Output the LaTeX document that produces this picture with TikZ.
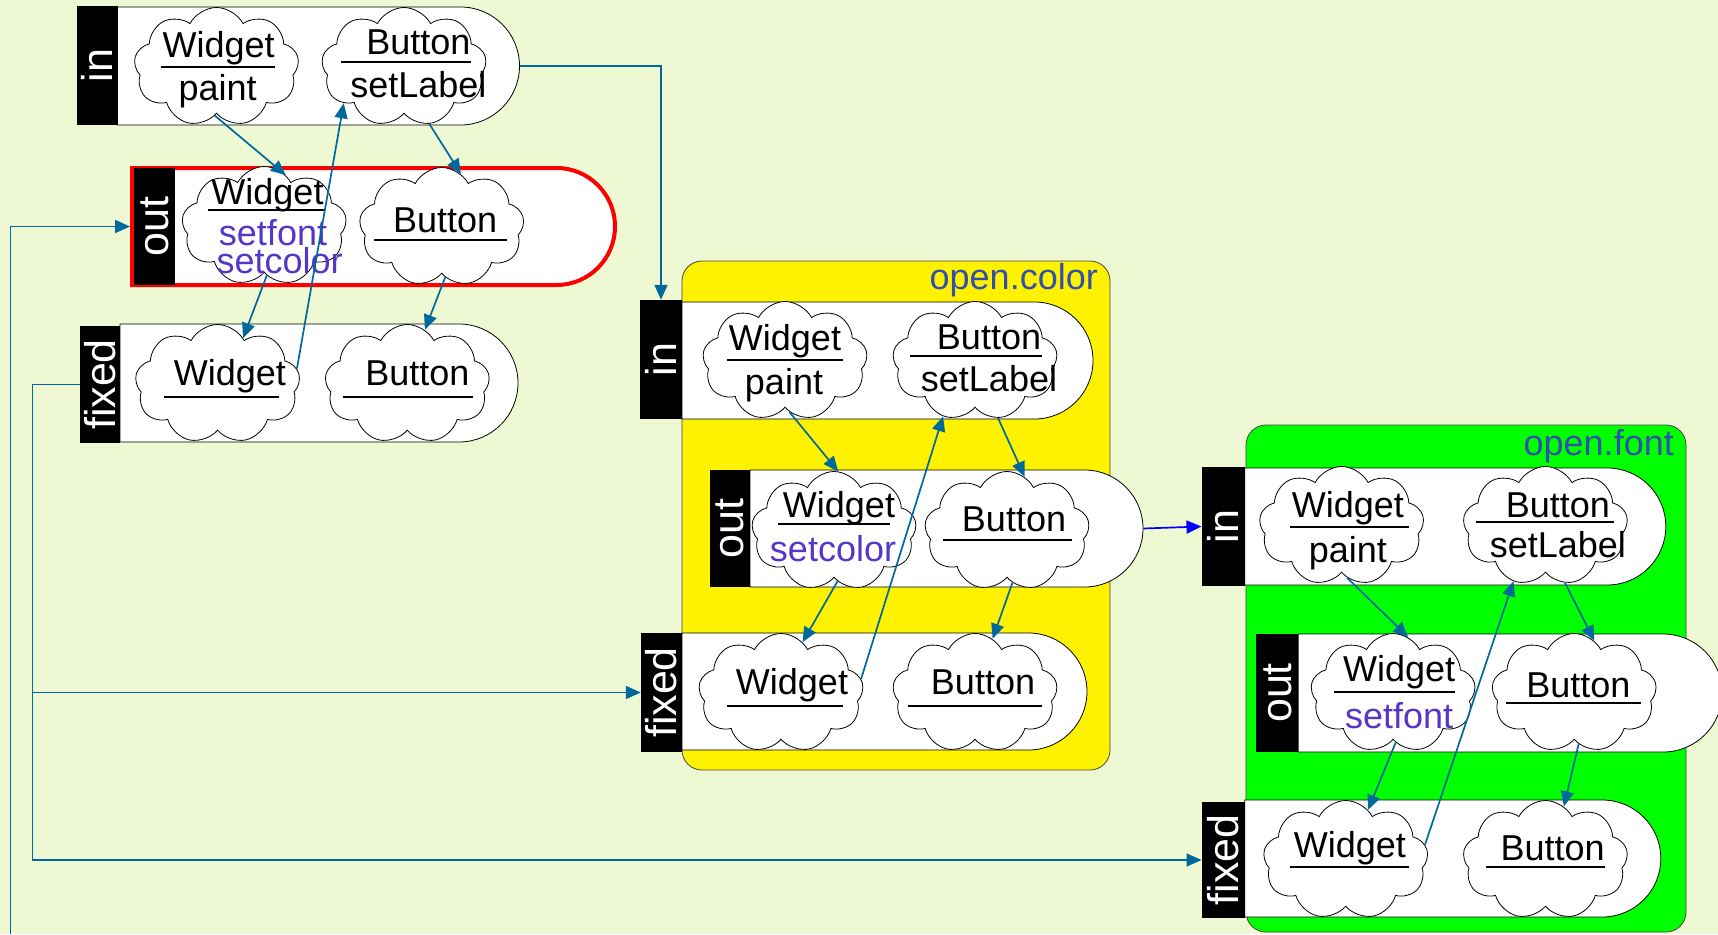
\documentclass[tikz,border=0pt]{standalone}
\usepackage{fontspec}
\setmainfont{Liberation Sans}
\usetikzlibrary{shapes.symbols,shapes.misc,arrows.meta}
\definecolor{bg}{RGB}{238,249,211}
\definecolor{link}{RGB}{0,105,155}
\definecolor{meth}{RGB}{85,55,200}
\definecolor{grp}{RGB}{50,80,170}
\definecolor{frame}{RGB}{70,70,70}
\begin{document}
\begin{tikzpicture}[x=1pt,y=-1pt,
  lane/.style={rounded rectangle, rounded rectangle west arc=none, draw=black, fill=white, line width=0.8pt, inner sep=0pt},
  lab/.style={fill=black, inner sep=0pt},
  labtxt/.style={text=white, rotate=90, inner sep=0pt, font=\fontsize{43}{43}\selectfont},
  obj/.style={cloud, cloud puffs=9, cloud puff arc=125, cloud ignores aspect, draw=black, fill=white, line width=0.8pt, inner sep=0pt, minimum width=165pt, minimum height=119pt},
  cls/.style={anchor=base, inner sep=0pt, font=\fontsize{36}{36}\selectfont},
  mth/.style={cls, text=meth},
  ul/.style={line width=2.5pt},
  grptitle/.style={anchor=base east, inner sep=0pt, text=grp, font=\fontsize{36}{36}\selectfont},
  arr/.style={draw=link, line width=1.7pt, -{Triangle[length=15pt,width=13pt]}},
  barr/.style={arr, draw=blue}
]
% canvas
\fill[bg] (0,0) rectangle (1718,934);
\useasboundingbox (0,0) rectangle (1718,934);

% group frames
\filldraw[fill=yellow, draw=frame, line width=0.8pt, rounded corners=20pt] (682,261) rectangle (1110,770);
\node[grptitle] (ttlcolor) at (1098,289) {open.color};
\filldraw[fill={rgb,255:red,0;green,255;blue,0}, draw=frame, line width=0.8pt, rounded corners=20pt] (1246,425) rectangle (1686,932);
\node[grptitle] (ttlfont) at (1674,455) {open.font};

% ---------- lanes ----------
\node[lane, minimum width=402pt, minimum height=118pt] (tin) at (318.5,66) {};
\node[lane, draw=red, line width=4pt, minimum width=483pt, minimum height=117pt] (tout) at (373.5,226.5) {};
\node[lane, minimum width=398pt, minimum height=118pt] (tfix) at (319,383) {};

\node[lane, minimum width=411pt, minimum height=117pt] (yin) at (887.5,360.5) {};
\node[lane, minimum width=393pt, minimum height=117pt] (yout) at (946.5,528.5) {};
\node[lane, minimum width=405pt, minimum height=117pt] (yfix) at (884.5,691.5) {};

\node[lane, minimum width=421pt, minimum height=117pt] (gin) at (1455.3,526.5) {};
\node[lane, minimum width=424pt, minimum height=118pt] (gout) at (1510.2,693) {};
\node[lane, minimum width=416pt, minimum height=117pt] (gfix) at (1452.8,858.5) {};

% lane tags
\node[lab, minimum width=41pt, minimum height=119pt] (tinlab) at (97.2,65.5) {};
\node[labtxt] (tinlabt) at (tinlab) {in};
\node[lab, minimum width=41pt, minimum height=117pt] (toutlab) at (154.9,226.5) {};
\node[labtxt] (toutlabt) at (toutlab) {out};
\node[lab, minimum width=40pt, minimum height=117pt] (tfixlab) at (100,384.5) {};
\node[labtxt] (tfixlabt) at (tfixlab) {fixed};

\node[lab, minimum width=42pt, minimum height=119pt] (yinlab) at (661,359.5) {};
\node[labtxt] (yinlabt) at (yinlab) {in};
\node[lab, minimum width=40pt, minimum height=117pt] (youtlab) at (730,528.5) {};
\node[labtxt] (youtlabt) at (youtlab) {out};
\node[lab, minimum width=41pt, minimum height=119pt] (yfixlab) at (661.5,692.5) {};
\node[labtxt] (yfixlabt) at (yfixlab) {fixed};

\node[lab, minimum width=43pt, minimum height=119pt] (ginlab) at (1223.2,526.5) {};
\node[labtxt] (ginlabt) at (ginlab) {in};
\node[lab, minimum width=42pt, minimum height=118pt] (goutlab) at (1277.3,693) {};
\node[labtxt] (goutlabt) at (goutlab) {out};
\node[lab, minimum width=43pt, minimum height=116pt] (gfixlab) at (1223.2,860) {};
\node[labtxt] (gfixlabt) at (gfixlab) {fixed};

% ---------- objects ----------
% first column
\node[obj] (tinW) at (216.5,67) {};
\node[cls] (tinWc) at (218.7,57) {Widget};
\draw[ul] (161,67) -- (275.3,67);
\node[cls] (tinWm) at (217.6,100) {paint};

\node[obj] (tinB) at (404,67) {};
\node[cls] (tinBc) at (418.4,55) {Button};
\draw[ul] (340.8,62) -- (470.6,62);
\node[cls] (tinBm) at (418.4,97) {setLabel};

\node[obj] (toutW) at (264.2,226) {};
\node[cls] (toutWc) at (267.5,204) {Widget};
\draw[ul] (207.6,210) -- (324.1,210);
\node[mth] (toutWm1) at (273,245) {setfont};
\node[mth] (toutWm2) at (279.7,273) {setcolor};

\node[obj] (toutB) at (441.7,227) {};
\node[cls] (toutBc) at (445.1,232) {Button};
\draw[ul] (374,240) -- (507.2,240);

\node[obj] (tfixW) at (217.6,384) {};
\node[cls] (tfixWc) at (229.8,385) {Widget};
\draw[ul] (164.3,397) -- (278.6,397);

\node[obj] (tfixB) at (407.3,384) {};
\node[cls] (tfixBc) at (417.3,385) {Button};
\draw[ul] (343,397) -- (472.8,397);

% open.color
\node[obj] (yinW) at (785,361) {};
\node[cls] (yinWc) at (785,350) {Widget};
\draw[ul] (727,360) -- (843,360);
\node[cls] (yinWm) at (784,394) {paint};

\node[obj] (yinB) at (975,361) {};
\node[cls] (yinBc) at (989,349) {Button};
\draw[ul] (910,356) -- (1042,356);
\node[cls] (yinBm) at (989,391) {setLabel};

\node[obj] (youtW) at (834,531) {};
\node[cls] (youtWc) at (839,517) {Widget};
\draw[ul] (778,524) -- (890,524);
\node[mth] (youtWm) at (833,561) {setcolor};

\node[obj] (youtB) at (1007,531) {};
\node[cls] (youtBc) at (1014,531) {Button};
\draw[ul] (943,540) -- (1072,540);

\node[obj] (yfixW) at (781,693) {};
\node[cls] (yfixWc) at (792,694) {Widget};
\draw[ul] (727,706) -- (843,706);

\node[obj] (yfixB) at (975,693) {};
\node[cls] (yfixBc) at (983,694) {Button};
\draw[ul] (908,706) -- (1042,706);

% open.font
\node[obj] (ginW) at (1341.6,526) {};
\node[cls] (ginWc) at (1347.8,517) {Widget};
\draw[ul] (1290.1,527) -- (1408.5,527);
\node[cls] (ginWm) at (1347.8,562) {paint};

\node[obj] (ginB) at (1545.4,526) {};
\node[cls] (ginBc) at (1557.8,517) {Button};
\draw[ul] (1476.4,522) -- (1614.4,522);
\node[cls] (ginBm) at (1557.8,557) {setLabel};

\node[obj] (goutW) at (1393.1,693) {};
\node[cls] (goutWc) at (1399.2,681) {Widget};
\draw[ul] (1334.4,692) -- (1454.8,692);
\node[mth] (goutWm) at (1399.2,728) {setfont};

\node[obj] (goutB) at (1574.2,693) {};
\node[cls] (goutBc) at (1578.3,697) {Button};
\draw[ul] (1506.3,703) -- (1641,703);

\node[obj] (gfixW) at (1345.7,860) {};
\node[cls] (gfixWc) at (1349.8,857) {Widget};
\draw[ul] (1290.1,867) -- (1408.5,867);

\node[obj] (gfixB) at (1545.4,860) {};
\node[cls] (gfixBc) at (1552.6,860) {Button};
\draw[ul] (1485.7,867) -- (1605.1,867);

% ---------- links inside groups ----------
\draw[arr] (tinW.-92) -- (toutW.67);
\draw[arr] (tinB.-66) -- (toutB.70);
\draw[arr] (tfixW.11) -- (tinB.211);
\draw[arr] (toutW.-87) -- (tfixW.61);
\draw[arr] (toutB.-86) -- (tfixB.72);

\draw[arr] (yinW.-85) -- (youtW.86);
\draw[arr] (yinB.-68) -- (youtB.72);
\draw[arr] (yfixW.10) -- (yinB.240);
\draw[arr] (youtW.-86) -- (yfixW.67);
\draw[arr] (youtB.-84) -- (yfixB.72);

\draw[arr] (ginW.-84) -- (goutW.75);
\draw[arr] (ginB.-71) -- (goutB.69);
\draw[arr] (gfixW.11) -- (ginB.240);
\draw[arr] (goutW.-87) -- (gfixW.66);
\draw[arr] (goutB.-85) -- (gfixB.71);

% ---------- links between lanes ----------
\coordinate (feed) at (10.5,934);
\coordinate (jx) at (32.5,0);
\draw[arr] (feed) |- (tout.west);
\draw[arr] (tin.east) -| (yinlab.north);
\draw[arr] (tfixlab.west) -| (jx |- yfixlab.west) -- (yfixlab.west);
\draw[arr] (jx |- yfixlab.west) |- (gfixlab.west);
\draw[barr] (yout.east) -- (ginlab.west);
\end{tikzpicture}
\end{document}
